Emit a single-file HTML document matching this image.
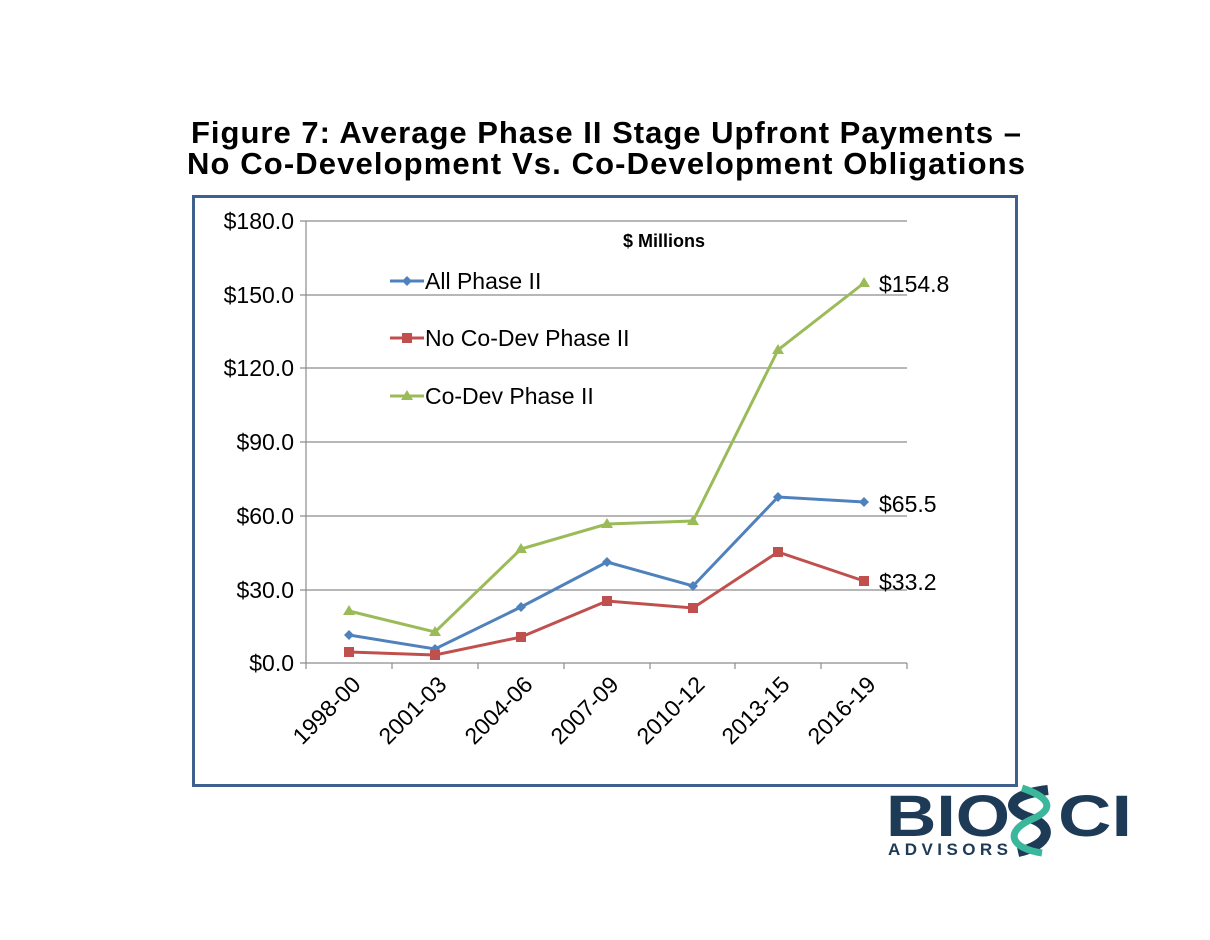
<!DOCTYPE html>
<html><head><meta charset="utf-8"><style>
body{margin:0;background:#fff;width:1210px;height:935px;overflow:hidden}
</style></head><body>
<svg width="1210" height="935" xmlns="http://www.w3.org/2000/svg" font-family="Liberation Sans, sans-serif">
<text x="606" y="143" text-anchor="middle" font-size="31" font-weight="bold" textLength="830">Figure 7:  Average Phase II Stage Upfront Payments –</text>
<text x="606" y="174" text-anchor="middle" font-size="31" font-weight="bold" textLength="838">No Co-Development Vs. Co-Development Obligations</text>
<rect x="193.5" y="196.5" width="823" height="589" fill="none" stroke="#3f5f8f" stroke-width="3"/>
<g stroke="#8c8c8c" stroke-width="1.2">
<line x1="300" y1="221" x2="907" y2="221"/><line x1="300" y1="295" x2="907" y2="295"/>
<line x1="300" y1="368" x2="907" y2="368"/><line x1="300" y1="442" x2="907" y2="442"/>
<line x1="300" y1="516" x2="907" y2="516"/><line x1="300" y1="590" x2="907" y2="590"/>
<line x1="300" y1="663" x2="907" y2="663"/><line x1="306" y1="221" x2="306" y2="663"/>
<line x1="392" y1="663" x2="392" y2="669"/><line x1="478" y1="663" x2="478" y2="669"/><line x1="564" y1="663" x2="564" y2="669"/><line x1="650" y1="663" x2="650" y2="669"/><line x1="735" y1="663" x2="735" y2="669"/><line x1="821" y1="663" x2="821" y2="669"/><line x1="907" y1="663" x2="907" y2="669"/><line x1="306" y1="663" x2="306" y2="669"/>
</g>
<g font-size="23" text-anchor="end" fill="#000">
<text x="294" y="229">$180.0</text><text x="294" y="303">$150.0</text><text x="294" y="376">$120.0</text>
<text x="294" y="450">$90.0</text><text x="294" y="524">$60.0</text><text x="294" y="598">$30.0</text><text x="294" y="671">$0.0</text>
</g>
<g font-size="23" text-anchor="end">
<text transform="translate(362,686) rotate(-45)">1998-00</text>
<text transform="translate(448,686) rotate(-45)">2001-03</text>
<text transform="translate(534,686) rotate(-45)">2004-06</text>
<text transform="translate(620,686) rotate(-45)">2007-09</text>
<text transform="translate(706,686) rotate(-45)">2010-12</text>
<text transform="translate(791,686) rotate(-45)">2013-15</text>
<text transform="translate(877,686) rotate(-45)">2016-19</text>
</g>
<text x="664" y="247" text-anchor="middle" font-size="18" font-weight="bold">$ Millions</text>
<polyline fill="none" stroke="#9bbb59" stroke-width="3" points="349,611 435,632 521,549 607,524 693,521 778,350 864,283"/>
<polyline fill="none" stroke="#4f81bd" stroke-width="3" points="349,635 435,649 521,607 607,562 693,586 778,497 864,502"/>
<polyline fill="none" stroke="#c0504d" stroke-width="3" points="349,652 435,655 521,637 607,601 693,608 778,552 864,581"/>
<g fill="#9bbb59"><path d="M349,605l6,10h-12z"/><path d="M435,626l6,10h-12z"/><path d="M521,543l6,10h-12z"/><path d="M607,518l6,10h-12z"/><path d="M693,515l6,10h-12z"/><path d="M778,344l6,10h-12z"/><path d="M864,277l6,10h-12z"/></g>
<g fill="#4f81bd"><path d="M349,630l5,5-5,5-5-5z"/><path d="M435,644l5,5-5,5-5-5z"/><path d="M521,602l5,5-5,5-5-5z"/><path d="M607,557l5,5-5,5-5-5z"/><path d="M693,581l5,5-5,5-5-5z"/><path d="M778,492l5,5-5,5-5-5z"/><path d="M864,497l5,5-5,5-5-5z"/></g>
<g fill="#c0504d"><rect x="344" y="647" width="10" height="10"/><rect x="430" y="650" width="10" height="10"/><rect x="516" y="632" width="10" height="10"/><rect x="602" y="596" width="10" height="10"/><rect x="688" y="603" width="10" height="10"/><rect x="773" y="547" width="10" height="10"/><rect x="859" y="576" width="10" height="10"/></g>
<g font-size="23"><text x="879" y="292">$154.8</text><text x="879" y="512">$65.5</text><text x="879" y="590">$33.2</text></g>
<line x1="390" y1="281" x2="424" y2="281" stroke="#4f81bd" stroke-width="3"/><path d="M407,276l5,5-5,5-5-5z" fill="#4f81bd"/>
<line x1="390" y1="338" x2="424" y2="338" stroke="#c0504d" stroke-width="3"/><rect x="402" y="333" width="10" height="10" fill="#c0504d"/>
<line x1="390" y1="396" x2="424" y2="396" stroke="#9bbb59" stroke-width="3"/><path d="M407,390l6,10h-12z" fill="#9bbb59"/>
<g font-size="23"><text x="425" y="289">All Phase II</text><text x="425" y="346">No Co-Dev Phase II</text><text x="425" y="404">Co-Dev Phase II</text></g>
<text x="886" y="836" font-size="58" font-weight="bold" fill="#1d3a57" textLength="124" lengthAdjust="spacingAndGlyphs">BIO</text>
<text x="1058" y="836" font-size="58" font-weight="bold" fill="#1d3a57" textLength="74" lengthAdjust="spacingAndGlyphs">CI</text>
<text x="888" y="855" font-size="17" font-weight="bold" fill="#1d3a57" textLength="120">ADVISORS</text>
<path d="M1048,790 C1005,795 1005,810 1030,818 C1055,826 1050,845 1018,852" fill="none" stroke="#1d3a57" stroke-width="10"/>
<path d="M1022,788 C1052,798 1055,810 1030,820 C1005,832 1010,848 1042,853" fill="none" stroke="#3bb89b" stroke-width="7"/>
</svg>
</body></html>
